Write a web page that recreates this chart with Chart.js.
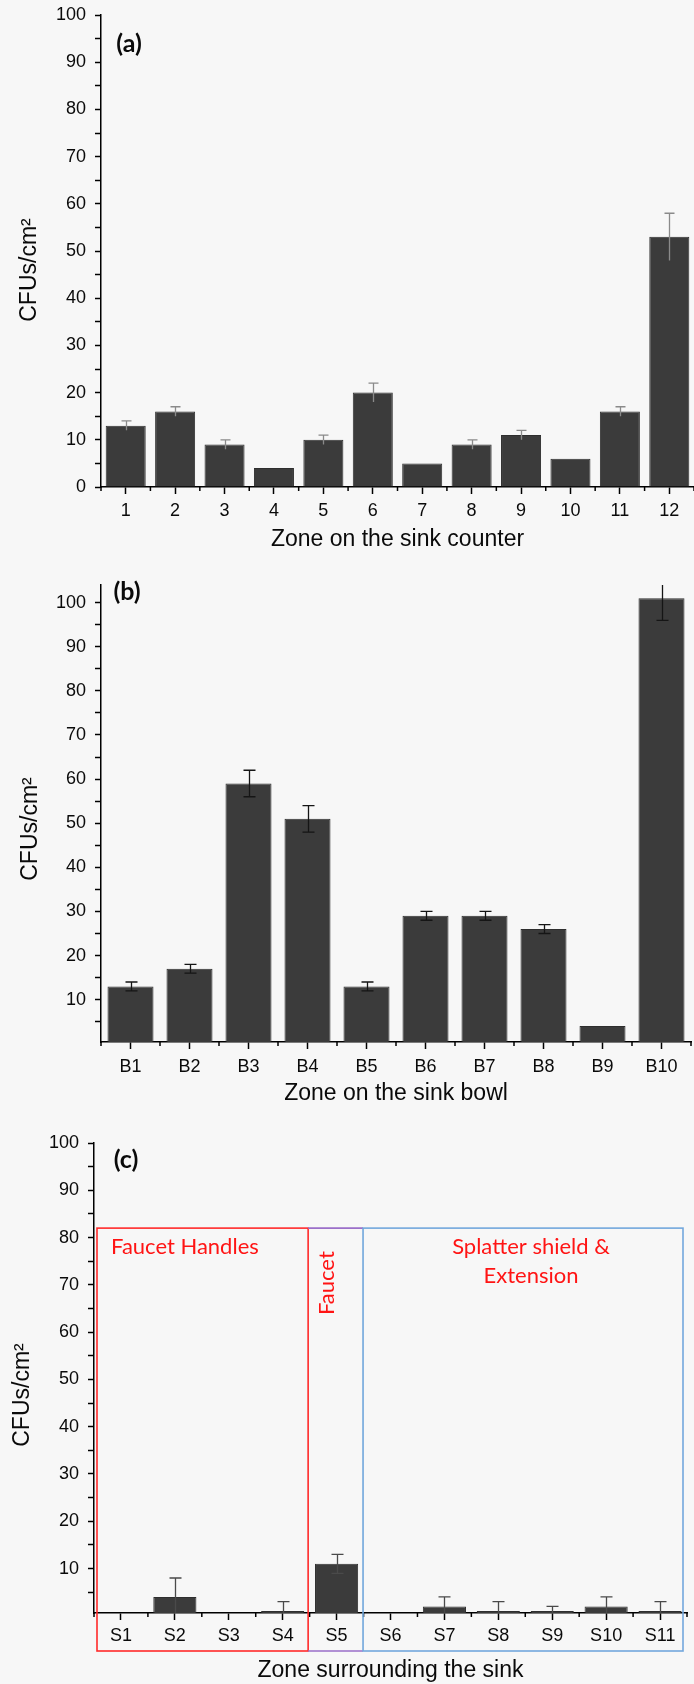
<!DOCTYPE html>
<html>
<head>
<meta charset="utf-8">
<script src="https://cdn.jsdelivr.net/npm/chart.js@4.4.0/dist/chart.umd.min.js"></script>
<style>
  html, body { margin: 0; padding: 0; background: #f7f7f7; }
  body { width: 694px; height: 1684px; position: relative; overflow: hidden; }
  canvas { position: absolute; left: 0; }
</style>
</head>
<body>
<canvas id="chartA" width="694" height="560" style="top:0px"></canvas>
<canvas id="chartB" width="694" height="548" style="top:560px"></canvas>
<canvas id="chartC" width="694" height="576" style="top:1108px"></canvas>
<script>
// (a) zone on the sink counter
const zonesA = ['1', '2', '3', '4', '5', '6', '7', '8', '9', '10', '11', '12'];
const cfuA = [13, 16, 9, 4, 10, 20, 5, 9, 11, 6, 16, 53];
const errA = [1, 1, 1, 0, 1, 2, 0, 1, 1, 0, 1, 5];

// (b) zone on the sink bowl
const zonesB = ['B1', 'B2', 'B3', 'B4', 'B5', 'B6', 'B7', 'B8', 'B9', 'B10'];
const cfuB = [13, 17, 59, 51, 13, 29, 29, 26, 4, 101];
const errB = [1, 1, 3, 3, 1, 1, 1, 1, 0, 5];

// (c) zone surrounding the sink
const zonesC = ['S1', 'S2', 'S3', 'S4', 'S5', 'S6', 'S7', 'S8', 'S9', 'S10', 'S11'];
const cfuC = [0, 4, 0, 1, 11, 0, 2, 1, 1, 2, 1];
const errC = [0, 4, 0, 2, 2, 0, 2, 2, 1, 2, 2];

// y ticks (labels only on multiples of 10)
const yTicksA = [0, 5, 10, 15, 20, 25, 30, 35, 40, 45, 50, 55, 60, 65, 70, 75, 80, 85, 90, 95, 100];
const yTicksBC = [5, 10, 15, 20, 25, 30, 35, 40, 45, 50, 55, 60, 65, 70, 75, 80, 85, 90, 95, 100];

// groups marked with boxes in (c)
const groupNames = [['Faucet Handles'], ['Faucet'], ['Splatter shield &', 'Extension']];
const groupFirst = [0, 4, 5];
const groupLast = [3, 4, 10];

Chart.defaults.font.family = 'Liberation Sans';
Chart.defaults.color = '#0a0a0a';

const errorBars = {
  id: 'errorBars',
  afterDatasetsDraw(chart, args, o) {
    if (!o.errors) return;
    const {ctx, chartArea: ca, scales: {y}} = chart;
    const meta = chart.getDatasetMeta(0);
    const vals = chart.data.datasets[0].data;
    ctx.save();
    ctx.beginPath();
    ctx.rect(ca.left, ca.top, ca.right - ca.left, ca.bottom - ca.top);
    ctx.clip();
    ctx.strokeStyle = o.color;
    ctx.lineWidth = 1.3;
    meta.data.forEach((bar, i) => {
      const e = o.errors[i];
      if (!e) return;
      const yt = y.getPixelForValue(vals[i] + e);
      const yb = y.getPixelForValue(vals[i] - e);
      const x = Math.round(bar.x) + 0.5;
      ctx.beginPath();
      ctx.moveTo(x, yt); ctx.lineTo(x, yb);
      ctx.moveTo(x - o.cap / 2, yt); ctx.lineTo(x + o.cap / 2, yt);
      if (o.lowerCap) { ctx.moveTo(x - o.cap / 2, yb); ctx.lineTo(x + o.cap / 2, yb); }
      ctx.stroke();
    });
    ctx.restore();
  }
};

const decor = {
  id: 'decor',
  afterDraw(chart, args, o) {
    const {ctx, chartArea: ca, scales: {x}} = chart;
    ctx.save();
    // short ticks between categories
    ctx.strokeStyle = '#000';
    ctx.lineWidth = 1.5;
    ctx.beginPath();
    for (let i = 0; i <= chart.data.labels.length; i++) {
      const px = x.getPixelForValue(i - 0.5);
      ctx.moveTo(px, ca.bottom); ctx.lineTo(px, ca.bottom + 4);
    }
    ctx.stroke();
    // y axis title
    ctx.fillStyle = '#0a0a0a';
    ctx.font = '23px "Liberation Sans"';
    ctx.textAlign = 'center';
    ctx.textBaseline = 'middle';
    ctx.translate(o.titleX, o.titleY);
    ctx.rotate(-Math.PI / 2);
    ctx.fillText('CFUs/cm²', 0, 0);
    ctx.setTransform(1, 0, 0, 1, 0, 0);
    // panel letter
    ctx.font = 'bold 25px Lato';
    ctx.fillText(o.letter, o.letterX, o.letterY);
    ctx.restore();
  }
};

const groupBoxes = {
  id: 'groupBoxes',
  afterDraw(chart, args, o) {
    if (!o.show) return;
    const {ctx, chartArea: ca, scales: {x, y}} = chart;
    const top = y.getPixelForValue(82);
    const bottom = ca.bottom + 38;
    const edge = i => x.getPixelForValue(i - 0.5);
    const xl = edge(groupFirst[0]) + 3;
    const xr1 = edge(groupLast[0] + 1) - 1.5;
    const xl2 = edge(groupFirst[2]) - 0.5;
    const xr2 = edge(groupLast[2] + 1) - 4;
    ctx.save();
    ctx.lineWidth = 1.6;
    ctx.strokeStyle = '#ff2a2a';
    ctx.strokeRect(xl, top, xr1 - xl, bottom - top);
    ctx.strokeStyle = '#9b6fc9';
    ctx.beginPath();
    ctx.moveTo(xr1, top); ctx.lineTo(xl2, top);
    ctx.moveTo(xr1, bottom); ctx.lineTo(xl2, bottom);
    ctx.stroke();
    ctx.strokeStyle = '#72a7dc';
    ctx.strokeRect(xl2, top, xr2 - xl2, bottom - top);

    ctx.fillStyle = '#ff1414';
    ctx.font = '22px Lato';
    ctx.textBaseline = 'middle';
    ctx.textAlign = 'left';
    ctx.fillText(groupNames[0][0], xl + 14, top + 19);
    ctx.textAlign = 'center';
    const cx = (xl2 + xr2) / 2 + 8;
    groupNames[2].forEach((t, k) => ctx.fillText(t, cx, top + 19 + k * 29));
    ctx.translate((xr1 + xl2) / 2 - 9, top + 55);
    ctx.rotate(-Math.PI / 2);
    ctx.fillText(groupNames[1][0], 0, 0);
    ctx.restore();
  }
};

function makeChart(id, labels, values, p) {
  return new Chart(document.getElementById(id), {
    type: 'bar',
    data: {
      labels: labels,
      datasets: [{
        data: values,
        backgroundColor: '#3b3b3b',
        borderColor: '#2e2e2e',
        borderWidth: 1,
        borderSkipped: 'start',
        categoryPercentage: 1,
        barPercentage: p.barPct
      }]
    },
    options: {
      responsive: false,
      animation: false,
      layout: { padding: { top: p.padTop, right: p.padRight, left: 0, bottom: 0 } },
      plugins: {
        legend: { display: false },
        tooltip: { enabled: false },
        errorBars: { errors: p.errors, color: p.errColor, cap: p.cap, lowerCap: p.lowerCap },
        decor: { titleX: p.titleX, titleY: p.titleY, letter: p.letter, letterX: p.letterX, letterY: p.letterY },
        groupBoxes: { show: !!p.boxes }
      },
      scales: {
        x: {
          offset: true,
          afterFit: s => { s.height = p.xHeight; s.paddingLeft = 0; s.paddingRight = 0; },
          ticks: { font: { size: 18 }, padding: p.labelPad, maxRotation: 0, autoSkip: false },
          grid: { offset: false, drawOnChartArea: false, tickLength: 7, tickColor: '#000', tickWidth: 1.5 },
          border: { color: '#000', width: 1.5 },
          title: { display: true, text: p.xTitle, font: { size: 23 }, padding: { top: 0, bottom: p.titlePad } }
        },
        y: {
          min: p.yMin,
          max: p.yMax,
          afterBuildTicks: s => { s.ticks = p.yTicks.map(v => ({ value: v })); },
          afterFit: s => { s.width = p.axisX; s.paddingTop = 0; s.paddingBottom = 0; },
          ticks: { font: { size: 18 }, padding: 9, autoSkip: false, callback: v => (v % 10 === 0 ? v : '') },
          grid: { drawOnChartArea: false, tickLength: 6, tickColor: '#000', tickWidth: 1.5 },
          border: { color: '#000', width: 1.5 }
        }
      }
    },
    plugins: [errorBars, decor, groupBoxes]
  });
}

makeChart('chartA', zonesA, cfuA, {
  barPct: 0.81, errors: errA, errColor: '#8a8a8a', cap: 10, lowerCap: false,
  padTop: 15, padRight: 0, xHeight: 73, labelPad: 6, titlePad: 7,
  xTitle: 'Zone on the sink counter', yMin: 0, yMax: 100, yTicks: yTicksA, axisX: 101,
  titleX: 30, titleY: 270, letter: '(a)', letterX: 129, letterY: 44
});

makeChart('chartB', zonesB, cfuB, {
  barPct: 0.78, errors: errB, errColor: '#151515', cap: 12, lowerCap: true,
  padTop: 25, padRight: 3, xHeight: 66, labelPad: 7, titlePad: 1,
  xTitle: 'Zone on the sink bowl', yMin: 0.4, yMax: 104, yTicks: yTicksBC, axisX: 101,
  titleX: 31, titleY: 269, letter: '(b)', letterX: 127, letterY: 32
});

makeChart('chartC', zonesC, cfuC, {
  barPct: 0.8, errors: errC, errColor: '#4a4a4a', cap: 12, lowerCap: true,
  padTop: 35, padRight: 7, xHeight: 71, labelPad: 5, titlePad: 0,
  xTitle: 'Zone surrounding the sink', yMin: 0.6, yMax: 100, yTicks: yTicksBC, axisX: 94,
  titleX: 23, titleY: 287, letter: '(c)', letterX: 126, letterY: 52, boxes: true
});
</script>
</body>
</html>
